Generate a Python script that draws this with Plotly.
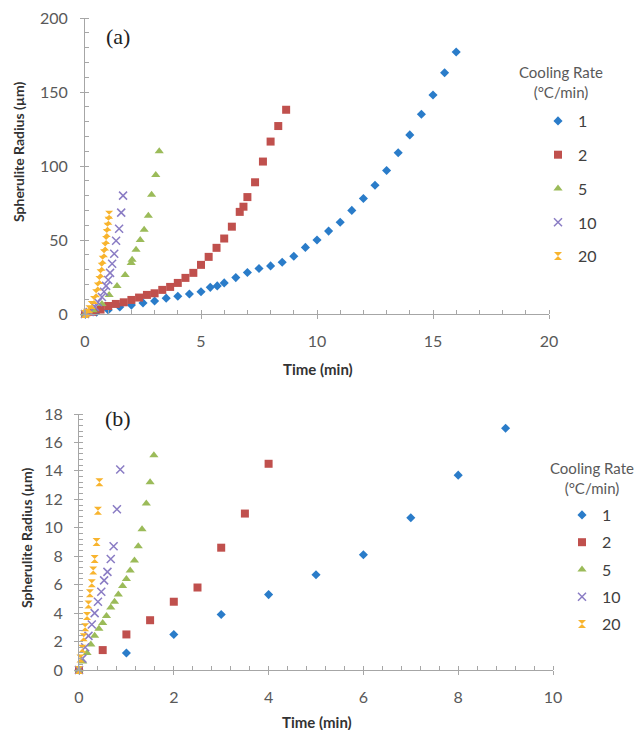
import plotly.graph_objects as go

# ---------------- data: panel (a) ----------------
a_t1 = [0, 0.5, 1.0, 1.5, 2.0, 2.5, 3.0, 3.5, 4.0, 4.5, 5.0, 5.4, 5.7, 6.0, 6.5, 7.0, 7.5, 8.0,
        8.5, 9.0, 9.5, 10.0, 10.5, 11.0, 11.5, 12.0, 12.5, 13.0, 13.5, 14.0, 14.5, 15.0, 15.5, 16.0]
a_r1 = [0, 1.3, 2.7, 4.7, 6, 7.5, 8.8, 10.7, 12, 13.5, 15, 18, 19, 21, 24.6, 28, 30.7, 32.5,
        35, 39, 45, 50, 56, 62, 70, 78, 87, 97, 109, 121, 135, 148, 163, 177]
a_t2 = [0, 0.33, 0.67, 1.0, 1.33, 1.67, 2.0, 2.33, 2.67, 3.0, 3.33, 3.67, 4.0, 4.33, 4.67, 5.0,
        5.33, 5.67, 6.0, 6.33, 6.67, 6.83, 7.0, 7.33, 7.67, 8.0, 8.33, 8.67]
a_r2 = [0, 1.5, 3.0, 5.4, 6.8, 7.9, 9.5, 11.1, 12.9, 14, 16.3, 18.3, 21, 24.4, 27.8, 33.2,
        38.6, 44.7, 51, 59, 69, 72.5, 79, 89, 103, 116.5, 127, 138]
a_t5 = [0, 0.35, 0.73, 1.04, 1.38, 1.73, 1.99, 2.03, 2.2, 2.38, 2.55, 2.73, 2.87, 3.05, 3.2]
a_r5 = [0, 2.5, 6.8, 12.9, 19, 26.4, 34.5, 36.6, 43.4, 50, 57, 66.4, 80.6, 94, 110]
a_t10 = [0, 0.2, 0.43, 0.56, 0.73, 0.82, 0.91, 1.0, 1.08, 1.17, 1.26, 1.34, 1.47, 1.56, 1.64]
a_r10 = [0, 1.4, 4.7, 8, 11.5, 15, 19, 23, 27.8, 33.9, 40.7, 49.5, 57.6, 68.5, 80]
a_t20 = [0, 0.07, 0.19, 0.29, 0.39, 0.48, 0.55, 0.62, 0.67, 0.72, 0.76, 0.82, 0.87, 0.91,
         0.94, 0.97, 1.01, 1.04]
a_r20 = [0, 0.9, 3.2, 6.1, 9.5, 14, 18.5, 23, 27.6, 32, 36.6, 41, 45.6, 50, 54.7, 59, 63, 67]

# ---------------- data: panel (b) ----------------
b_t1 = [0, 1, 2, 3, 4, 5, 6, 7, 8, 9]
b_r1 = [0, 1.2, 2.5, 3.9, 5.3, 6.7, 8.1, 10.7, 13.7, 17.0]
b_t2 = [0, 0.5, 1.0, 1.5, 2.0, 2.5, 3.0, 3.5, 4.0]
b_r2 = [0, 1.4, 2.5, 3.5, 4.8, 5.8, 8.6, 11.0, 14.5]
b_t5 = [0, 0.08, 0.17, 0.25, 0.33, 0.42, 0.5, 0.58, 0.67, 0.75, 0.83, 0.92, 1.0, 1.08, 1.17,
        1.25, 1.33, 1.42, 1.5, 1.58]
b_r5 = [0, 0.6, 1.2, 1.8, 2.4, 2.9, 3.3, 3.8, 4.4, 4.8, 5.3, 5.9, 6.4, 7.0, 7.7, 8.7, 9.9,
        11.7, 13.2, 15.1]
b_t10 = [0, 0.07, 0.13, 0.2, 0.27, 0.33, 0.4, 0.47, 0.53, 0.6, 0.67, 0.73, 0.8, 0.87]
b_r10 = [0, 0.8, 1.6, 2.4, 3.2, 4.0, 4.8, 5.5, 6.3, 6.9, 7.8, 8.7, 11.3, 14.1]
b_t20 = [0, 0.03, 0.07, 0.1, 0.13, 0.17, 0.2, 0.23, 0.27, 0.3, 0.33, 0.37, 0.4, 0.43]
b_r20 = [0, 0.8, 1.5, 2.3, 3.0, 3.8, 4.6, 5.4, 6.1, 7.0, 7.8, 9.0, 11.2, 13.2]

rate_labels = ["1", "2", "5", "10", "20"]
legend_title = "Cooling Rate<br>(°C/min)"
y_title = "Spherulite Radius (µm)"
x_title = "Time (min)"

colors = ["#2a7cc9", "#c0504d", "#9bbb59", "#8a7cc4", "#f8b42e"]
symbols = ["diamond", "square", "triangle-up", "x-thin-open", "hourglass"]
sizes = [7, 8, 8, 8, 8]

W, H = 636, 730
def px(x): return x / W
def py(y): return 1 - y / H

FONT = "Lato"
GRAY = "#595959"
AX = "#a6a6a6"

fig = go.Figure()

series_a = [(a_t1, a_r1), (a_t2, a_r2), (a_t5, a_r5), (a_t10, a_r10), (a_t20, a_r20)]
series_b = [(b_t1, b_r1), (b_t2, b_r2), (b_t5, b_r5), (b_t10, b_r10), (b_t20, b_r20)]

for i, (t, r) in enumerate(series_a):
    mk = dict(color=colors[i], size=sizes[i], symbol=symbols[i])
    if symbols[i] == "x-thin-open":
        mk["line"] = dict(color=colors[i], width=1.5)
    fig.add_trace(go.Scatter(x=t, y=r, mode="markers", name=rate_labels[i], marker=mk,
                             xaxis="x", yaxis="y", legend="legend", legendgroup="a" + str(i),
                             cliponaxis=False))
for i, (t, r) in enumerate(series_b):
    mk = dict(color=colors[i], size=sizes[i], symbol=symbols[i])
    if symbols[i] == "x-thin-open":
        mk["line"] = dict(color=colors[i], width=1.5)
    fig.add_trace(go.Scatter(x=t, y=r, mode="markers", name=rate_labels[i], marker=mk,
                             xaxis="x2", yaxis="y2", legend="legend2", legendgroup="b" + str(i),
                             cliponaxis=False))

def axis(domain, rng, dtick, minor_dtick, anchor, standoff):
    return dict(domain=domain, range=rng, dtick=dtick, tick0=0, anchor=anchor,
                showgrid=False, zeroline=False, showline=True, linecolor=AX, linewidth=1,
                ticks="outside", ticklen=4, tickcolor=AX,
                minor=dict(dtick=minor_dtick, ticks="inside", ticklen=4, tickcolor=AX, showgrid=False),
                tickfont=dict(family=FONT, size=16, color=GRAY),
                ticklabelstandoff=standoff, automargin=False, fixedrange=True)

fig.update_layout(
    width=W, height=H, margin=dict(l=0, r=0, t=0, b=0, pad=0),
    paper_bgcolor="white", plot_bgcolor="white",
    xaxis=axis([px(85), px(549)], [0, 20], 5, 1, "y", 9),
    yaxis=axis([py(314), py(18)], [0, 200], 50, 10, "x", 9),
    xaxis2=axis([px(79), px(553)], [0, 10], 2, 0.4, "y2", 9),
    yaxis2=axis([py(670), py(414)], [0, 18], 2, 0.4, "x2", 8),
    legend=dict(x=px(538), y=py(104), xanchor="left", yanchor="top",
                font=dict(family=FONT, size=16, color="#404040"),
                traceorder="grouped", tracegroupgap=10, bgcolor="rgba(0,0,0,0)"),
    legend2=dict(x=px(562), y=py(498), xanchor="left", yanchor="top",
                 font=dict(family=FONT, size=16, color="#404040"),
                 traceorder="grouped", tracegroupgap=3.5, bgcolor="rgba(0,0,0,0)"),
    showlegend=True,
)

def note(text, x, y, size, family=FONT, color="#333", angle=0):
    return dict(text=text, x=px(x), y=py(y), xref="paper", yref="paper", showarrow=False,
                xanchor="center", yanchor="middle", align="center", textangle=angle,
                font=dict(family=family, size=size, color=color))

ann = []
ann.append(note("(a)", 118, 37, 22, "Liberation Serif", "#222"))
ann.append(note("(b)", 118, 418, 22, "Liberation Serif", "#222"))
for (xx, yy) in [(18, 152), (26, 538)]:
    ann.append(note("<b>" + y_title + "</b>", xx, yy, 14, angle=-90))
for (xx, yy) in [(318, 369), (317, 722)]:
    ann.append(note("<b>" + x_title + "</b>", xx, yy, 15))
for (xx, yy) in [(561, 82), (592, 478)]:
    ann.append(note(legend_title, xx, yy, 15, color=GRAY))
fig.update_layout(annotations=ann)

fig.write_html("out.html")
